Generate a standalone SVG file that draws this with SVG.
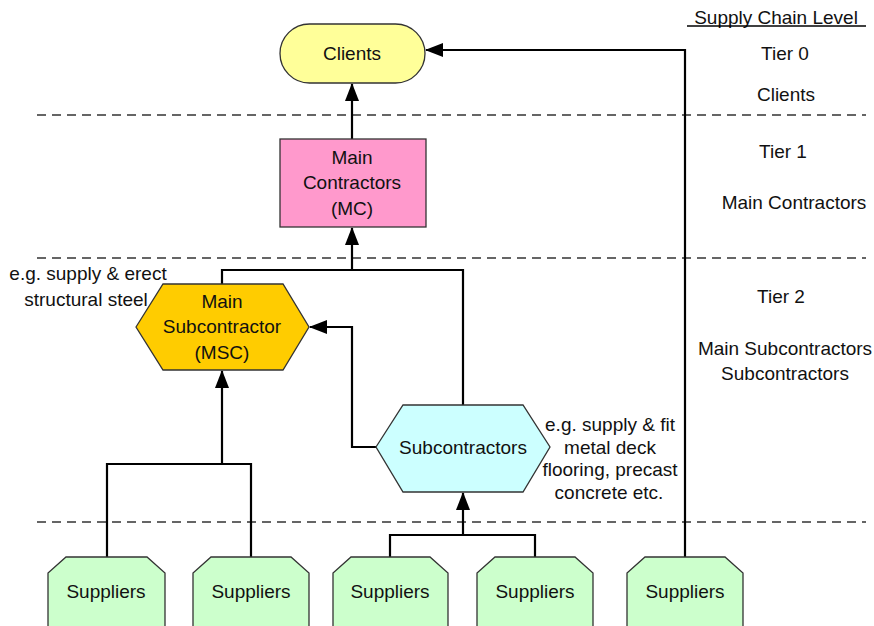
<svg xmlns="http://www.w3.org/2000/svg" width="874" height="626" viewBox="0 0 874 626">
<defs>
<marker id="ah" markerWidth="18" markerHeight="14" refX="17" refY="7" orient="auto" markerUnits="userSpaceOnUse">
<path d="M0,0 L18,7 L0,14 Z" fill="#000"/>
</marker>
</defs>
<style>
text{font-family:"Liberation Sans",Arial,sans-serif;font-size:19px;fill:#111;text-anchor:middle;dominant-baseline:central}
.node{stroke:#333;stroke-width:1.3}
.conn{fill:none;stroke:#000;stroke-width:2.2}
.dash{stroke:#333;stroke-width:1.3;stroke-dasharray:9,6}
</style>
<rect width="874" height="626" fill="#fff"/>
<g id="tiers">
<line class="dash" x1="37" y1="115" x2="866" y2="115"/>
<line class="dash" x1="37" y1="258" x2="866" y2="258"/>
<line class="dash" x1="37" y1="522" x2="866" y2="522"/>
</g>
<g id="levels">
<text x="776" y="17">Supply Chain Level</text>
<line x1="687" y1="26" x2="866" y2="26" stroke="#000" stroke-width="1.3"/>
<text x="785" y="53">Tier 0</text>
<text x="786" y="94">Clients</text>
<text x="783" y="151">Tier 1</text>
<text x="794" y="202">Main Contractors</text>
<text x="781" y="296">Tier 2</text>
<text x="785" y="348">Main Subcontractors</text>
<text x="785" y="373">Subcontractors</text>
</g>
<g id="connectors">
<path class="conn" d="M352,139 L352,84" marker-end="url(#ah)"/>
<path class="conn" d="M222,284 L222,270 L463,270 L463,405"/>
<path class="conn" d="M352,270 L352,228" marker-end="url(#ah)"/>
<path class="conn" d="M376,447 L352,447 L352,327 L310,327" marker-end="url(#ah)"/>
<path class="conn" d="M107,557 L107,464 L251,464 L251,557"/>
<path class="conn" d="M222,464 L222,371" marker-end="url(#ah)"/>
<path class="conn" d="M390,557 L390,535 L535,535 L535,557"/>
<path class="conn" d="M463,535 L463,493" marker-end="url(#ah)"/>
<path class="conn" d="M685,557 L685,50 L426,50" marker-end="url(#ah)"/>
</g>
<g id="clients">
<rect class="node" x="280" y="24" width="145" height="59" rx="29.5" fill="#ffff99"/>
<text x="352" y="53">Clients</text>
</g>
<g id="main-contractors">
<rect class="node" x="280" y="139" width="146" height="88" fill="#ff99cc"/>
<text x="352" y="157">Main</text>
<text x="352" y="182">Contractors</text>
<text x="352" y="208">(MC)</text>
</g>
<g id="main-subcontractor">
<polygon class="node" points="136,327 163,284 283,284 309,327 283,370 163,370" fill="#ffcc00"/>
<text x="222" y="301">Main</text>
<text x="222" y="326">Subcontractor</text>
<text x="222" y="352">(MSC)</text>
</g>
<g id="msc-note">
<text x="88" y="273">e.g. supply &amp; erect</text>
<text x="86" y="299">structural steel</text>
</g>
<g id="subcontractors">
<polygon class="node" points="376,447 403,405 523,405 550,447 523,492 403,492" fill="#ccffff"/>
<text x="463" y="447">Subcontractors</text>
</g>
<g id="sub-note">
<text x="610" y="424">e.g. supply &amp; fit</text>
<text x="610" y="447">metal deck</text>
<text x="610" y="469">flooring, precast</text>
<text x="609" y="492">concrete etc.</text>
</g>
<g id="suppliers-1">
<polygon class="node" points="48,640 48,573 66,557 147,557 165,573 165,640" fill="#ccffcc"/>
<text x="106" y="591">Suppliers</text>
</g>
<g id="suppliers-2">
<polygon class="node" points="193,640 193,573 211,557 291,557 309,573 309,640" fill="#ccffcc"/>
<text x="251" y="591">Suppliers</text>
</g>
<g id="suppliers-3">
<polygon class="node" points="333,640 333,573 351,557 430,557 448,573 448,640" fill="#ccffcc"/>
<text x="390" y="591">Suppliers</text>
</g>
<g id="suppliers-4">
<polygon class="node" points="477,640 477,573 495,557 575,557 593,573 593,640" fill="#ccffcc"/>
<text x="535" y="591">Suppliers</text>
</g>
<g id="suppliers-5">
<polygon class="node" points="627,640 627,573 645,557 725,557 743,573 743,640" fill="#ccffcc"/>
<text x="685" y="591">Suppliers</text>
</g>
</svg>
